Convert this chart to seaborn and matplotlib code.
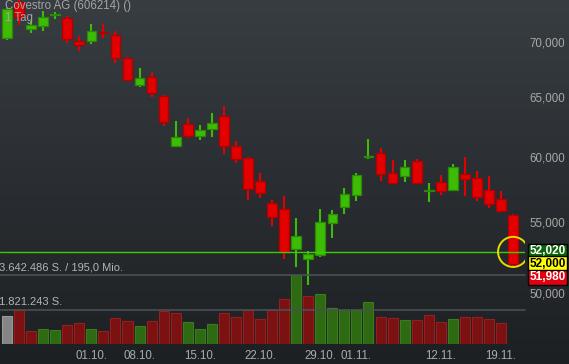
import numpy as np
import pandas as pd
import matplotlib
matplotlib.use("Agg")
import matplotlib.pyplot as plt
from matplotlib.colors import LinearSegmentedColormap
from matplotlib.ticker import NullLocator
import seaborn as sns

# ---------------- data ----------------
dates = ["20.09.", "21.09.", "24.09.", "25.09.", "26.09.", "27.09.", "28.09.",
         "01.10.", "02.10.", "04.10.", "05.10.",
         "08.10.", "09.10.", "10.10.", "11.10.", "12.10.",
         "15.10.", "16.10.", "17.10.", "18.10.", "19.10.",
         "22.10.", "23.10.", "24.10.", "25.10.", "26.10.",
         "29.10.", "30.10.", "31.10.", "01.11.", "02.11.",
         "05.11.", "06.11.", "07.11.", "08.11.", "09.11.",
         "12.11.", "13.11.", "14.11.", "15.11.", "16.11.",
         "19.11.", "20.11."]

open_ = [70390, 73840, 71190, 71530, 72510, 72240, 70050, 70110, 70930, 70610, 68500,
         66070, 66760, 65110, 60910, 62710, 61730, 62290, 63380, 60890, 59920, 58080,
         56390, 55940, 53030, 52320, 52640, 54950, 56140, 57050, 59960, 60300, 58710,
         58520, 59680, 57350, 58000, 57430, 58630, 58340, 57410, 56720, 55520]
high = [73240, 74030, 71980, 72950, 72880, 72470, 70550, 71690, 71690, 71000, 68620,
        67590, 67200, 65220, 62960, 63220, 62630, 63640, 64240, 61300, 60000, 58710,
        56640, 56950, 55300, 52910, 55970, 55890, 57560, 58730, 61460, 60700, 59760,
        59760, 59840, 57950, 58570, 59440, 60000, 58890, 58490, 57330, 55590]
low = [70200, 71640, 70860, 71050, 72180, 69920, 69170, 69830, 70390, 68070, 66430,
       65890, 65040, 62570, 60810, 61570, 61380, 61630, 60270, 59540, 56640, 56820,
       54730, 52360, 51760, 50530, 52500, 53860, 55610, 56590, 59860, 58130, 57870,
       58050, 57870, 56490, 57020, 57330, 56970, 56570, 56060, 55760, 51740]
close = [73110, 72370, 71600, 72340, 72610, 70300, 69730, 71000, 70840, 68530, 66510,
         66670, 65340, 62900, 61630, 61730, 62210, 62800, 60910, 59820, 57510, 57200,
         55390, 52860, 53980, 52670, 55000, 55590, 57100, 58570, 60040, 58630, 57970,
         59200, 57970, 57410, 57350, 59200, 58280, 56890, 56360, 55840, 52000]

# volume (last day not shown)
volume = [1478000, 1795000, 686000, 792000, 755000, 987000, 1093000, 776000, 702000,
          1373000, 1230000, 950000, 1198000, 1758000, 1621000, 1146000, 808000, 1056000,
          1621000, 1441000, 1795000, 1304000, 1795000, 2391000, 3642486, 2550000,
          2624000, 1885000, 1795000, 1795000, 2217000, 1425000, 1373000, 1267000,
          1251000, 1547000, 1146000, 1304000, 1425000, 1425000, 1304000, 1093000]

turnover_text = "195,0 Mio."
tick_dates = ["01.10.", "08.10.", "15.10.", "22.10.", "29.10.", "01.11.", "12.11.", "19.11."]
price_ticks = [50000, 55000, 60000, 65000, 70000]
ref_line = 52840
bid, last, ask = 52020, 52000, 51980
title = "Covestro AG (606214) ()"
subtitle = "1 Tag"

# ---------------- style ----------------
sns.set_style("dark")
plt.rcParams["font.family"] = ["Liberation Sans", "DejaVu Sans"]

W, H = 569, 364
fig = plt.figure(figsize=(W / 100, H / 100), dpi=100)

# gradient background
bg = fig.add_axes([0, 0, 1, 1], zorder=-10)
cmap = LinearSegmentedColormap.from_list("bg", ["#1d2023", "#2a2e32", "#373d41"])
bg.imshow(np.linspace(0, 1, 256).reshape(-1, 1), aspect="auto", cmap=cmap,
          extent=[0, 1, 0, 1], origin="lower")
bg.set_axis_off()

df = pd.DataFrame({"date": dates, "open": open_, "high": high, "low": low, "close": close})
df["idx"] = np.arange(len(df))
up = df["close"] >= df["open"]

RED, RED_E = "#e20000", "#b00000"
GRN, GRN_E = "#3dbb05", "#2b8a05"

ax = fig.add_axes([0, 20 / H, 525 / W, 344 / H])
ax.set_facecolor("none")
ax.set_yscale("log")

wick_col = np.where(up, GRN, RED)
ax.vlines(df["idx"], df["low"], df["high"], colors=wick_col, linewidth=1.5, zorder=2)
body_lo = np.minimum(df["open"], df["close"])
body_h = np.abs(df["close"] - df["open"])
ax.bar(df["idx"], body_h, bottom=body_lo, width=0.8,
       color=np.where(up, GRN, RED), edgecolor=np.where(up, GRN_E, RED_E),
       linewidth=0.9, zorder=3)

ax.axhline(ref_line, color="#3ccc00", lw=1, zorder=4)
ax.scatter([df["idx"].iloc[-1]], [ref_line], s=470, facecolors="none",
           edgecolors="#e6dc00", linewidths=1.4, zorder=5)

ax.set_xlim(-0.581, 42.988)
ax.set_ylim(46710, 74030)
ax.yaxis.tick_right()
ax.set_yticks(price_ticks, [f"{v:,}" for v in price_ticks])
ax.yaxis.set_minor_locator(NullLocator())
tick_idx = [dates.index(d) for d in tick_dates]
ax.set_xticks(tick_idx, tick_dates)
ax.tick_params(axis="y", length=0, pad=3, labelsize=8.3, labelcolor="#a8a8a8")
ax.tick_params(axis="x", length=0, pad=4.3, labelsize=8.3, labelcolor="#a8acb0")
ax.grid(False)
for s in ax.spines.values():
    s.set_visible(False)

# price tags
tags = [(bid, "#0c640c", "white", 9.0), (last, "#ffff00", "black", 0.0),
        (ask, "#e2000f", "white", -9.7)]
for val, fc, tc, dy in tags:
    ax.annotate(f"{val:,}", xy=(1, last), xycoords=("axes fraction", "data"),
                xytext=(3.2, dy), textcoords="offset points", ha="left", va="center",
                fontsize=8.5, fontweight="bold", color=tc, annotation_clip=False,
                bbox=dict(boxstyle="square,pad=0.12", fc=fc, ec="black", lw=1))

# volume panel
vol_idx = np.arange(len(volume))
cl = np.array(close[:len(volume)])
vcols = ["#858585"] + ["#2d6a12" if cl[i] >= cl[i - 1] else "#7c1111" for i in range(1, len(volume))]
vedge = ["#9a9a9a"] + ["#3a7c1e" if c == "#2d6a12" else "#932020" for c in vcols[1:]]
axv = fig.add_axes([0, 20 / H, 525 / W, 69 / H])
axv.set_facecolor("none")
sns.barplot(x=vol_idx, y=volume, hue=vol_idx, palette=dict(zip(vol_idx, vcols)),
            dodge=False, legend=False, saturation=1, width=0.83, ax=axv)
for p in axv.patches:
    i = int(round(p.get_x() + p.get_width() / 2))
    p.set_edgecolor(vedge[i])
    p.set_linewidth(0.8)
vmax = max(volume)
axv.set_xlim(ax.get_xlim())
axv.set_ylim(0, vmax)
axv.axhline(vmax, color="#4a4f54", lw=1.2, clip_on=False)
axv.axhline(vmax / 2, color="#4a4f54", lw=1.2, clip_on=False)
fmt = lambda v: f"{int(v):,}".replace(",", ".")
axv.annotate(f"{fmt(vmax)} S. / {turnover_text}", xy=(0, vmax),
             xycoords=("axes fraction", "data"), xytext=(-1, 1.5), textcoords="offset points",
             ha="left", va="bottom", fontsize=8, color="#b4b4b4")
axv.annotate(f"{fmt(vmax // 2)} S.", xy=(0, vmax / 2),
             xycoords=("axes fraction", "data"), xytext=(-1, 1.5), textcoords="offset points",
             ha="left", va="bottom", fontsize=8, color="#b4b4b4")
axv.set_xticks([])
axv.set_yticks([])
axv.set_xlabel("")
axv.set_ylabel("")
for s in axv.spines.values():
    s.set_visible(False)

fig.text(5 / W, 1 - 0.5 / H, title, ha="left", va="top", fontsize=8.3, color="#a4a4a4")
fig.text(5 / W, 1 - 11.5 / H, subtitle, ha="left", va="top", fontsize=8.3, color="#a4a4a4")

fig.savefig("out.png", dpi=100)
